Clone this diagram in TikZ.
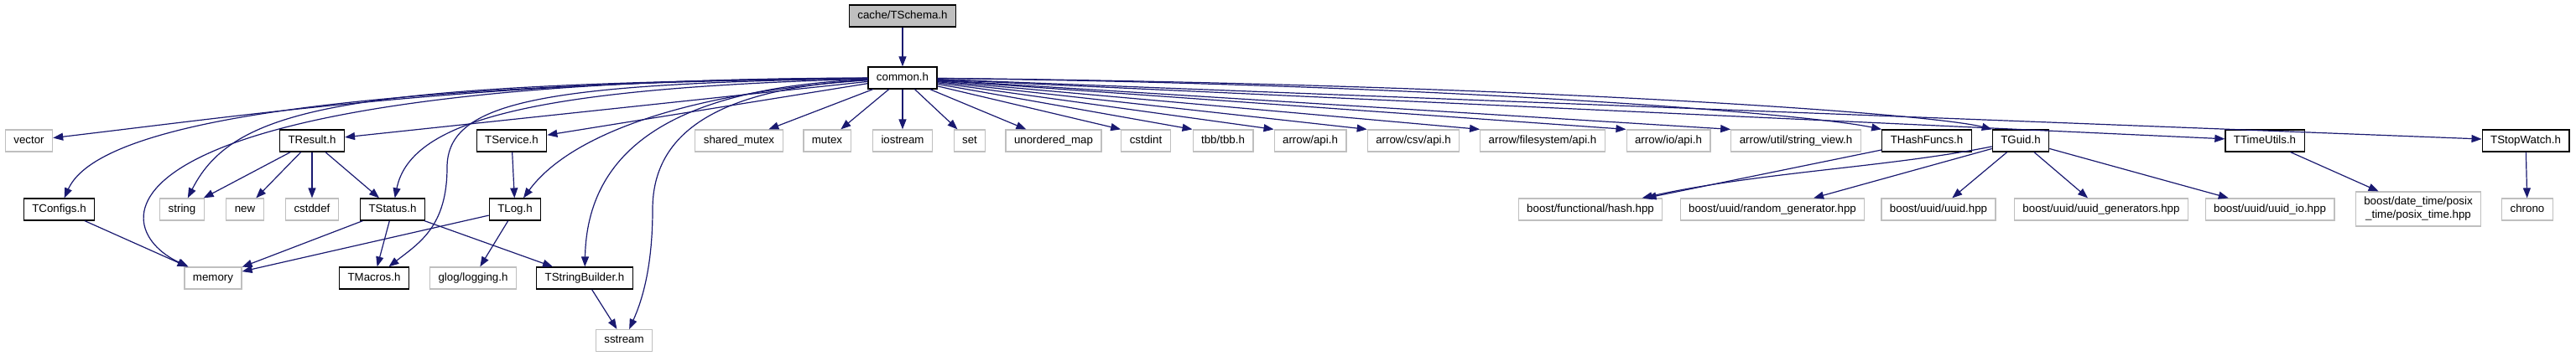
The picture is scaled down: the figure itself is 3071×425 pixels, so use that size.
\documentclass[tikz,border=0pt]{standalone}
\usepackage{fontspec}
\setmainfont{Liberation Sans}
\usetikzlibrary{arrows.meta}
\definecolor{edgeblue}{RGB}{25,25,112}
\definecolor{extgrey}{RGB}{191,191,191}
\begin{document}
\begin{tikzpicture}[x=1pt,y=-1pt,
  file/.style={draw, fill=white, line width=1.2pt, minimum height=26pt, inner xsep=10pt, inner ysep=2pt,
    text height=9.7pt, text depth=2.8pt, font=\fontsize{13.3}{16}\selectfont},
  ext/.style={file, draw=extgrey},
  dep/.style={draw=edgeblue, line width=1.2pt, -{Triangle[length=12pt,width=9pt]}}]
\useasboundingbox (0,0) rectangle (3071,425);
% header being documented
\node[file, fill=extgrey] (schema) at (1076,19) {cache/TSchema.h};
\node[file] (common) at (1076,93) {common.h};
% row of direct includes
\node[ext] (vector) at (34.5,168) {vector};
\node[file] (result) at (372,168) {TResult.h};
\node[file] (service) at (610,168) {TService.h};
\node[ext] (shmutex) at (881,168) {shared\_mutex};
\node[ext] (mutex) at (986,168) {mutex};
\node[ext] (iostream) at (1076,168) {iostream};
\node[ext] (set) at (1156,168) {set};
\node[ext] (umap) at (1256,168) {unordered\_map};
\node[ext] (cstdint) at (1366,168) {cstdint};
\node[ext] (tbb) at (1458,168) {tbb/tbb.h};
\node[ext] (arrowapi) at (1562,168) {arrow/api.h};
\node[ext] (csvapi) at (1685,168) {arrow/csv/api.h};
\node[ext] (fsapi) at (1839,168) {arrow/filesystem/api.h};
\node[ext] (ioapi) at (1989,168) {arrow/io/api.h};
\node[ext] (strview) at (2141,168) {arrow/util/string\_view.h};
\node[file] (hashfn) at (2297,168) {THashFuncs.h};
\node[file] (guid) at (2409,168) {TGuid.h};
\node[file] (timeu) at (2700,168) {TTimeUtils.h};
\node[file] (stopw) at (3011,168) {TStopWatch.h};
% second level
\node[file] (configs) at (70.5,250) {TConfigs.h};
\node[ext] (string) at (217,250) {string};
\node[ext] (new) at (292,250) {new};
\node[ext] (cstddef) at (372,250) {cstddef};
\node[file] (status) at (468,250) {TStatus.h};
\node[file] (log) at (614,250) {TLog.h};
\node[ext] (hash) at (1896,250) {boost/functional/hash.hpp};
\node[ext] (randgen) at (2113,250) {boost/uuid/random\_generator.hpp};
\node[ext] (uuid) at (2311,250) {boost/uuid/uuid.hpp};
\node[ext] (uuidgen) at (2505,250) {boost/uuid/uuid\_generators.hpp};
\node[ext] (uuidio) at (2706,250) {boost/uuid/uuid\_io.hpp};
\node[ext, align=center, text height=25.7pt, minimum height=41pt] (posix) at (2883,249.5) {boost/date\_time/posix\\\_time/posix\_time.hpp};
\node[ext] (chrono) at (3013,250) {chrono};
% third and fourth level
\node[ext] (memory) at (254,332) {memory};
\node[file] (macros) at (446,332) {TMacros.h};
\node[ext] (glog) at (564,332) {glog/logging.h};
\node[file] (strbuild) at (697,332) {TStringBuilder.h};
\node[ext] (sstream) at (744,406.5) {sstream};

\draw[dep] (schema) -- (common);
% common.h, left side
\draw[dep] (common) .. controls (585,95) and (313,135) .. (vector);
\draw[dep] (common) .. controls (450,100) and (120,140) .. (configs);
\draw[dep] (common) .. controls (100,95) and (120,270) .. (memory);
\draw[dep] (common) .. controls (420,100) and (280,125) .. (string);
\draw[dep] (common) -- (result);
\draw[dep] (common) .. controls (650,105) and (490,140) .. (status);
\draw[dep] (common) .. controls (650,100) and (533,120) .. (533,200) .. controls (533,270) and (500,290) .. (macros);
\draw[dep] (common) -- (service);
\draw[dep] (common) .. controls (820,110) and (680,160) .. (log);
\draw[dep] (common) .. controls (800,105) and (700,180) .. (strbuild);
\draw[dep] (common) .. controls (870,105) and (778,150) .. (778,250) .. controls (778,320) and (765,360) .. (sstream);
% common.h, below and right side
\draw[dep] (common) -- (shmutex);
\draw[dep] (common) -- (mutex);
\draw[dep] (common) -- (iostream);
\draw[dep] (common) -- (set);
\draw[dep] (common) -- (umap);
\draw[dep] (common) -- (cstdint.north west);
\draw[dep] (common) -- (tbb.north west);
\draw[dep] (common) -- (arrowapi.north west);
\draw[dep] (common) -- (csvapi.north west);
\draw[dep] (common) -- (fsapi.north west);
\draw[dep] (common) -- (ioapi.north west);
\draw[dep] (common) -- (strview.north west);
\draw[dep] (common) .. controls (1700,100) and (2150,135) .. (hashfn.north west);
\draw[dep] (common) .. controls (1800,100) and (2300,135) .. (guid.north west);
\draw[dep] (common) -- (timeu);
\draw[dep] (common) -- (stopw);
% project headers
\draw[dep] (result) -- (string);
\draw[dep] (result) -- (new);
\draw[dep] (result) -- (cstddef);
\draw[dep] (result) -- (status);
\draw[dep] (service) -- (log);
\draw[dep] (configs) -- (memory);
\draw[dep] (status) -- (memory);
\draw[dep] (status) -- (macros);
\draw[dep] (status) -- (strbuild);
\draw[dep] (log) -- (memory);
\draw[dep] (log) -- (glog);
\draw[dep] (strbuild) -- (sstream);
\draw[dep] (hashfn) -- (hash);
\draw[dep] (guid) .. controls (2250,200) and (2100,205) .. (hash);
\draw[dep] (guid) -- (randgen);
\draw[dep] (guid) -- (uuid);
\draw[dep] (guid) -- (uuidgen);
\draw[dep] (guid) -- (uuidio);
\draw[dep] (timeu) -- (posix);
\draw[dep] (stopw) -- (chrono);
\end{tikzpicture}
\end{document}
